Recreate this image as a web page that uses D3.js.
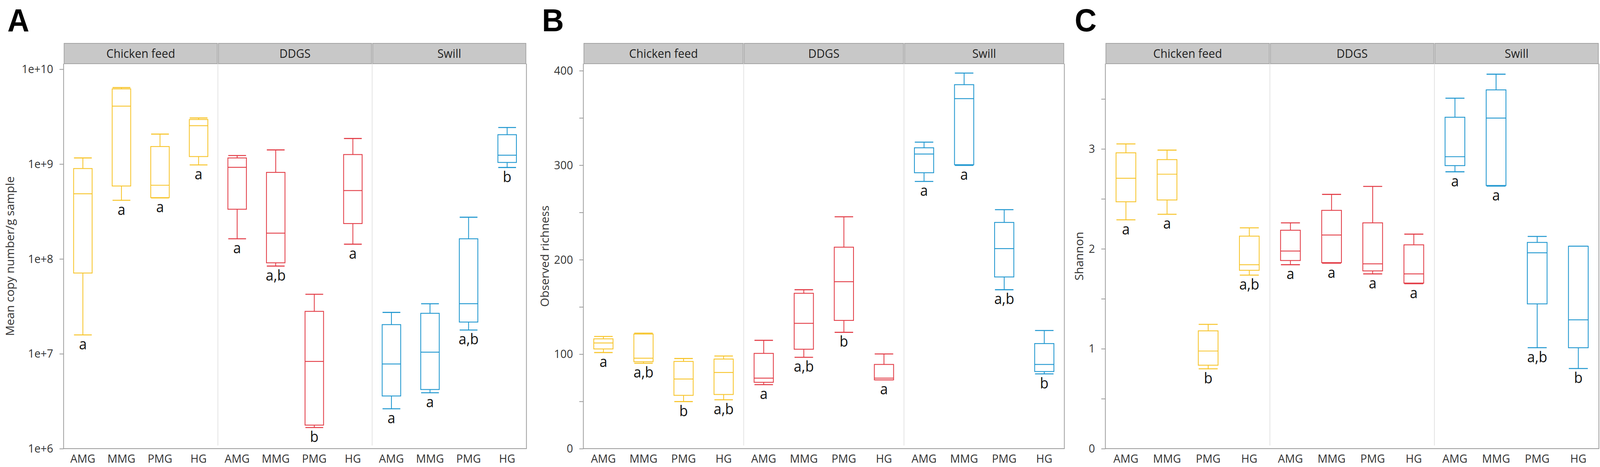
<!DOCTYPE html>
<html>
<head>
<meta charset="utf-8">
<script src="https://cdn.jsdelivr.net/npm/d3@7"></script>
<style>
  html, body { margin: 0; padding: 0; background: #fff; overflow: hidden; }
  #chart svg { display: block; width: 100vw; height: 100vh; }
  svg text { font-family: "Open Sans", "Noto Sans", sans-serif; }
</style>
</head>
<body>
<div id="chart"></div>
<script>
// facets and groups
var diets = ["Chicken feed", "DDGS", "Swill"];
var groups = ["AMG", "MMG", "PMG", "HG"];

// box stats: [lower whisker, Q1, median, Q3, upper whisker], 4 groups per diet
var copyStats = [
  [1.58e7, 7.1e7, 4.86e8, 8.97e8, 1.16e9],
  [4.15e8, 5.87e8, 4.08e9, 6.2e9, 6.4e9],
  [4.4e8, 4.43e8, 5.98e8, 1.53e9, 2.07e9],
  [9.8e8, 1.2e9, 2.54e9, 2.95e9, 3.06e9],
  [1.63e8, 3.34e8, 9.24e8, 1.16e9, 1.23e9],
  [8.4e7, 9.1e7, 1.87e8, 8.17e8, 1.41e9],
  [1.67e6, 1.77e6, 8.3e6, 2.8e7, 4.24e7],
  [1.43e8, 2.36e8, 5.26e8, 1.26e9, 1.86e9],
  [2.63e6, 3.59e6, 7.8e6, 2.03e7, 2.73e7],
  [3.88e6, 4.2e6, 1.04e7, 2.67e7, 3.37e7],
  [1.78e7, 2.16e7, 3.37e7, 1.63e8, 2.75e8],
  [9.2e8, 1.04e9, 1.24e9, 2.04e9, 2.43e9]
];
var copyLetters = ["a", "a", "a", "a", "a", "a,b", "b", "a", "a", "a", "a,b", "b"];

var richStats = [
  [101.7, 105.5, 111.8, 116.2, 118.7],
  [90.4, 92, 95.7, 121.3, 122.2],
  [49.8, 56.4, 73.7, 92.3, 95.4],
  [51.7, 57.3, 80.6, 94.8, 98],
  [67.7, 70.2, 74.6, 100.8, 114.6],
  [96.7, 105.2, 132.6, 164.4, 168.2],
  [123.1, 135.7, 176.7, 213.2, 245.4],
  [72.8, 72.8, 74.6, 89.1, 100.2],
  [282.8, 292, 311.8, 318.4, 324.4],
  [299.8, 300.5, 370.4, 385.2, 397.5],
  [168.2, 181.7, 211.7, 239.4, 252.9],
  [79.1, 81.6, 89.1, 111.2, 125]
];
var richLetters = ["a", "a,b", "b", "a,b", "a", "a,b", "b", "a", "a", "a", "a,b", "b"];

var shannonStats = [
  [2.29, 2.471, 2.706, 2.961, 3.05],
  [2.346, 2.489, 2.747, 2.893, 2.988],
  [0.799, 0.835, 0.977, 1.179, 1.244],
  [1.737, 1.785, 1.841, 2.127, 2.21],
  [1.841, 1.883, 1.978, 2.186, 2.26],
  [1.856, 1.862, 2.138, 2.385, 2.545],
  [1.749, 1.779, 1.85, 2.26, 2.625],
  [1.651, 1.657, 1.749, 2.04, 2.147],
  [2.771, 2.833, 2.922, 3.317, 3.508],
  [2.628, 2.634, 3.309, 3.591, 3.748],
  [1.01, 1.449, 1.96, 2.064, 2.124],
  [0.802, 1.01, 1.289, 2.026, 2.026]
];
var shannonLetters = ["a", "a", "b", "a,b", "a", "a", "a", "a", "a", "a", "a,b", "b"];

var copyTicks = [1e6, 1e7, 1e8, 1e9, 1e10];
var richTicks = [0, 100, 200, 300, 400];
var richMinor = [50, 150, 250, 350];
var shannonTicks = [0, 1, 2, 3];
var shannonMinor = [0.5, 1.5, 2.5, 3.5];

var color = d3.scaleOrdinal().domain(diets).range(["#F7C42A", "#E23B45", "#1E96CF"]);

var svg = d3.select("#chart").append("svg")
    .attr("viewBox", "0 0 4328 1195")
    .attr("preserveAspectRatio", "none");

function drawPanel(opt) {
  var top = 163, bottom = 1148, stripTop = 111;
  var g = svg.append("g");

  var y = opt.log ? d3.scaleLog() : d3.scaleLinear();
  y.domain(opt.domain).range([bottom, top]);

  var facet = d3.scaleBand().domain(diets).range([opt.left, opt.right]);
  var x = d3.scaleBand().domain(groups).range([0, facet.bandwidth()]).paddingInner(0.52).paddingOuter(0.26);

  // panel letter
  g.append("text")
    .attr("x", opt.letterX).attr("y", 80)
    .style("font-family", "'Liberation Sans', Arial, sans-serif")
    .style("font-weight", "bold")
    .style("font-size", "82px")
    .text(opt.letter);

  // plot background + facet dividers
  g.append("rect")
    .attr("x", opt.left).attr("y", top)
    .attr("width", opt.right - opt.left).attr("height", bottom - top)
    .attr("fill", "#fff");
  g.selectAll("line.div").data(diets.slice(1)).enter()
    .append("line")
    .attr("x1", function(d){ return facet(d); })
    .attr("x2", function(d){ return facet(d); })
    .attr("y1", top).attr("y2", bottom - 8)
    .attr("stroke", "#e2e2e2").attr("stroke-width", 2);

  // strips
  var strip = g.selectAll("g.strip").data(diets).enter().append("g");
  strip.append("rect")
    .attr("x", function(d){ return facet(d) + 1.5; })
    .attr("y", stripTop)
    .attr("width", facet.bandwidth() - 3)
    .attr("height", top - stripTop)
    .attr("fill", "#c8c8c8")
    .attr("stroke", "#a4a4a4")
    .attr("stroke-width", 2);
  strip.append("text")
    .attr("x", function(d){ return facet(d) + facet.bandwidth() / 2; })
    .attr("y", 148)
    .attr("text-anchor", "middle")
    .style("font-size", "31px")
    .attr("fill", "#222")
    .text(function(d){ return d; });

  // y axis
  var yAxis = d3.axisLeft(y).tickValues(opt.ticks).tickSize(11).tickPadding(17)
    .tickFormat(opt.format);
  var ya = g.append("g").attr("transform", "translate(" + opt.left + ",0)").call(yAxis);
  if (opt.minor) {
    g.append("g").attr("transform", "translate(" + opt.left + ",0)")
      .call(d3.axisLeft(y).tickValues(opt.minor).tickSize(11).tickFormat(""))
      .call(function(s){ s.select(".domain").remove(); s.selectAll("line").attr("stroke", "#999").attr("stroke-width", 2); });
  }
  ya.select(".domain").remove();
  ya.selectAll("line").attr("stroke", "#999").attr("stroke-width", 2);
  ya.selectAll("text").style("font-size", "30px").attr("fill", "#333");

  g.append("text")
    .attr("transform", "translate(" + opt.titleX + "," + ((top + bottom) / 2) + ") rotate(-90)")
    .attr("text-anchor", "middle")
    .style("font-size", "30px")
    .attr("fill", "#333")
    .text(opt.title);

  // x labels
  diets.forEach(function(dt){
    g.selectAll(null).data(groups).enter()
      .append("text")
      .attr("x", function(d){ return facet(dt) + x(d) + x.bandwidth() / 2; })
      .attr("y", 1184)
      .attr("text-anchor", "middle")
      .style("font-size", "30px")
      .attr("fill", "#333")
      .text(function(d){ return d; });
  });

  // boxes
  var rows = opt.stats.map(function(s, i){
    return { diet: diets[Math.floor(i / 4)], group: groups[i % 4], s: s, lab: opt.letters[i] };
  });
  var box = g.selectAll("g.box").data(rows).enter().append("g")
    .attr("transform", function(d){ return "translate(" + (facet(d.diet) + x(d.group)) + ",0)"; })
    .attr("stroke", function(d){ return color(d.diet); })
    .attr("stroke-width", 2.2)
    .attr("fill", "none");
  var bw = x.bandwidth();
  // whiskers
  box.append("line")
    .attr("x1", bw / 2).attr("x2", bw / 2)
    .attr("y1", function(d){ return y(d.s[3]); })
    .attr("y2", function(d){ return y(d.s[4]); });
  box.append("line")
    .attr("x1", bw / 2).attr("x2", bw / 2)
    .attr("y1", function(d){ return y(d.s[1]); })
    .attr("y2", function(d){ return y(d.s[0]); });
  [0, 4].forEach(function(k){
    box.append("line")
      .attr("x1", 1).attr("x2", bw - 1)
      .attr("y1", function(d){ return y(d.s[k]); })
      .attr("y2", function(d){ return y(d.s[k]); })
      .attr("stroke-width", 2.6);
  });
  box.append("rect")
    .attr("x", 0).attr("width", bw)
    .attr("y", function(d){ return y(d.s[3]); })
    .attr("height", function(d){ return y(d.s[1]) - y(d.s[3]); })
    .attr("fill", "#fff");
  box.append("line")
    .attr("x1", 0).attr("x2", bw)
    .attr("y1", function(d){ return y(d.s[2]); })
    .attr("y2", function(d){ return y(d.s[2]); });
  box.append("text")
    .attr("x", bw / 2)
    .attr("y", function(d){ return y(d.s[0]) + 37; })
    .attr("text-anchor", "middle")
    .attr("stroke", "none")
    .attr("fill", "#111")
    .style("font-size", "38px")
    .text(function(d){ return d.lab; });

  // border
  g.append("path")
    .attr("d", "M" + opt.left + "," + top + "V" + bottom + "H" + opt.right + "V" + top)
    .attr("fill", "none")
    .attr("stroke", "#999")
    .attr("stroke-width", 2);
}

drawPanel({
  letter: "A", letterX: 20, left: 172, right: 1424, titleX: 38,
  log: true, domain: [1e6, 1.143e10], ticks: copyTicks,
  format: function(d){ return "1e+" + Math.round(Math.log10(d)); },
  stats: copyStats, letters: copyLetters, title: "Mean copy number/g sample"
});
drawPanel({
  letter: "B", letterX: 1466, left: 1578, right: 2879, titleX: 1485,
  domain: [0, 407.4], ticks: richTicks, minor: richMinor, format: d3.format("d"),
  stats: richStats, letters: richLetters, title: "Observed richness"
});
drawPanel({
  letter: "C", letterX: 2907, left: 2990, right: 4325, titleX: 2930,
  domain: [0, 3.853], ticks: shannonTicks, minor: shannonMinor, format: d3.format("d"),
  stats: shannonStats, letters: shannonLetters, title: "Shannon"
});
</script>
</body>
</html>
